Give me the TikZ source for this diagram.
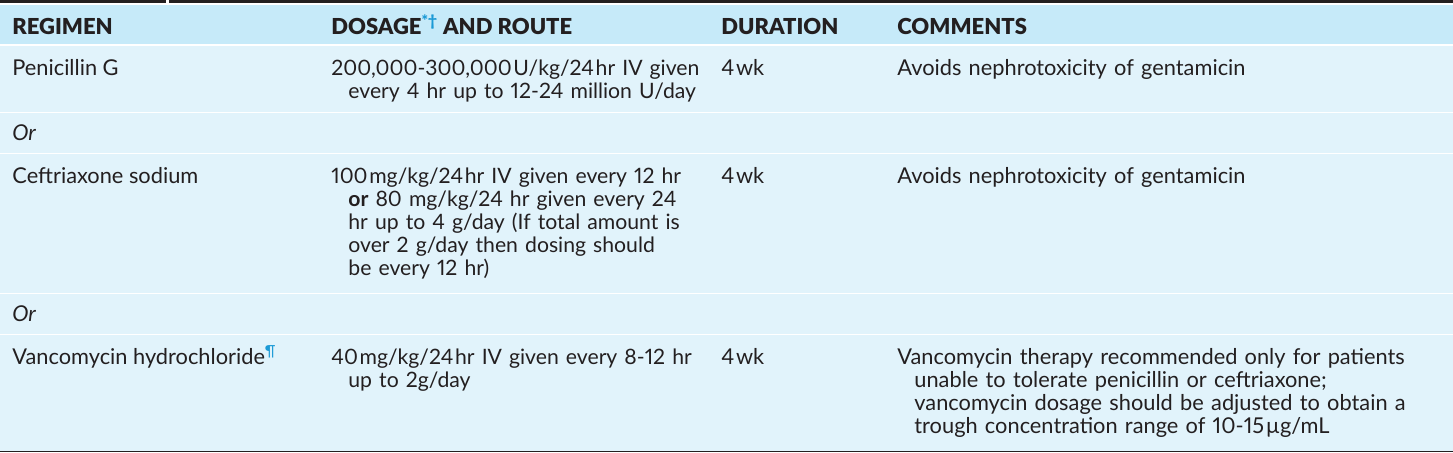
\documentclass[tikz,border=0pt]{standalone}
\usepackage{fontspec}
\setmainfont{Lato}[Numbers=Proportional, ItalicFont=* Italic, BoldFont=* Bold]
\newfontfamily\headfont{Lato Black}
\usepackage{xcolor}
\usepackage{tikz}
\usetikzlibrary{positioning}
\definecolor{tableInk}{HTML}{231F20}
\definecolor{tableHead}{HTML}{C6EAF9}
\definecolor{tableRow}{HTML}{E1F3FB}
\definecolor{tableMark}{HTML}{1B9AD6}
\newcommand{\hangline}{\\\hspace*{8.5pt}}
\newcommand{\tight}{\kern0.8pt}

\begin{document}
\begin{tikzpicture}[x=0.5pt, y=-0.5pt, every node/.style={inner sep=0pt, anchor=base west, text=tableInk, font=\fontsize{10.9}{11.5}\selectfont}, head/.style={font=\headfont\fontsize{11}{13}\selectfont}, dose/.style={text width=200pt, align=left, font=\fontsize{10.6}{11.5}\selectfont}, note/.style={text width=280pt, align=left}]
\useasboundingbox (0,0) rectangle (1453,452);
\fill[white] (0,0) rectangle (1453,452);
\fill[tableInk] (0,0) rectangle (166,2.7);
\fill[tableInk] (169,0) rectangle (1453,2.7);
\fill[tableHead] (0,5) rectangle (1453,44);
\fill[tableRow] (0,45.5) rectangle (1453,111.5);
\fill[tableRow] (0,113) rectangle (1453,152.5);
\fill[tableRow] (0,154) rectangle (1453,292.5);
\fill[tableRow] (0,294) rectangle (1453,333.5);
\fill[tableRow] (0,335) rectangle (1453,450.5);
\fill[tableInk] (0,450.5) rectangle (1453,452);

\node[head] (regimen) at (12,34) {REGIMEN};
\node[head] (dosage) at (331,34) {DOSAGE\textcolor{tableMark}{\textsuperscript{*†}} AND ROUTE};
\node[head] (duration) at (721,34) {DURATION};
\node[head] (comments) at (897,34) {COMMENTS};

\node (pen) at (12,75) {Penicillin G};
\node[dose] (pendose) at (dosage.base west |- pen.base) {200,000-300,000\tight U/kg/24\tight hr IV given\hangline every 4 hr up to 12-24 million U/day};
\node (penweeks) at (duration.base west |- pen.base) {4\tight wk};
\node[note] (pennote) at (comments.base west |- pen.base) {Avoids nephrotoxicity of gentamicin};

\node (orfirst) at (12,140) {\itshape Or};

\node (cef) at (12,183.5) {Ceftriaxone sodium};
\node[dose] (cefdose) at (dosage.base west |- cef.base) {100\tight mg/kg/24\tight hr IV given every 12 hr\hangline \textbf{or} 80 mg/kg/24 hr given every 24\hangline hr up to 4 g/day (If total amount is\hangline over 2 g/day then dosing should\hangline be every 12 hr)};
\node (cefweeks) at (duration.base west |- cef.base) {4\tight wk};
\node[note] (cefnote) at (comments.base west |- cef.base) {Avoids nephrotoxicity of gentamicin};

\node (orsecond) at (12,321) {\itshape Or};

\node (van) at (12,364) {Vancomycin hydrochloride\textcolor{tableMark}{\textsuperscript{¶}}};
\node[dose] (vandose) at (dosage.base west |- van.base) {40\tight mg/kg/24\tight hr IV given every 8-12 hr\hangline up to 2g/day};
\node (vanweeks) at (duration.base west |- van.base) {4\tight wk};
\node[note] (vannote) at (comments.base west |- van.base) {Vancomycin therapy recommended only for patients\hangline unable to tolerate penicillin or ceftriaxone;\hangline vancomycin dosage should be adjusted to obtain a\hangline trough concentration range of 10-15\tight µg/mL};
\end{tikzpicture}
\end{document}
